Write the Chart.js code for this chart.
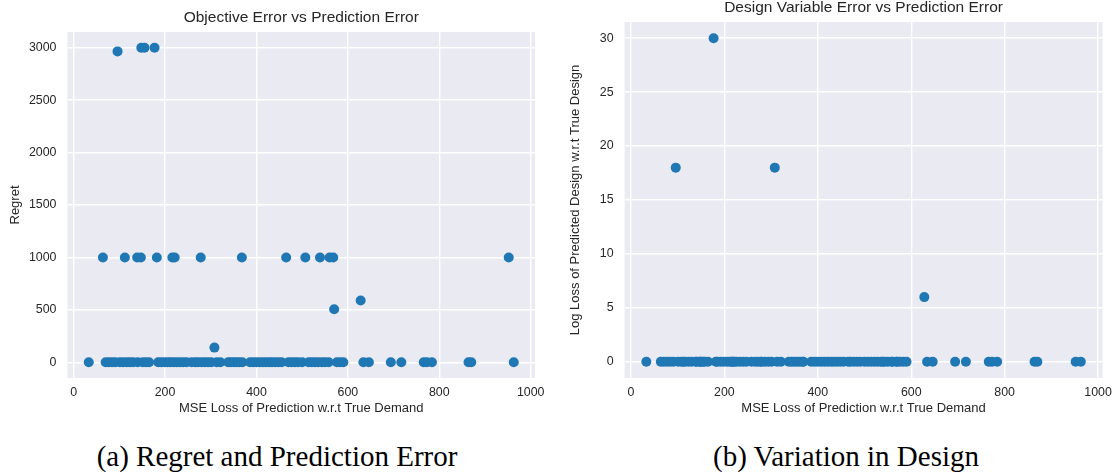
<!DOCTYPE html>
<html>
<head>
<meta charset="utf-8">
<script src="https://cdn.jsdelivr.net/npm/chart.js@4/dist/chart.umd.min.js"></script>
<style>
  body { margin: 0; background: #fff; width: 1119px; height: 474px; position: relative; overflow: hidden; }
  .box { position: absolute; top: 0; height: 430px; }
  .cap { position: absolute; top: 440px; width: 560px; text-align: center;
         font-family: "Liberation Serif", "DejaVu Serif", serif; font-size: 29px; color: #000; }
</style>
</head>
<body>
<div class="box" style="left:0;width:560px"><canvas id="regretChart"></canvas></div>
<div class="box" style="left:560px;width:559px"><canvas id="designChart"></canvas></div>
<div class="cap" style="left:0;width:554px">(a) Regret and Prediction Error</div>
<div class="cap" style="left:566px;width:560px">(b) Variation in Design</div>
<script>
// one entry per sample: MSE loss, regret, log loss of design
const mseLoss = [33, 64, 70, 77, 84, 91, 96, 101, 108, 112, 116, 123, 130, 139, 140, 147, 148, 151, 155, 158,
  165, 177, 182, 185, 192, 199, 206, 212, 216, 219, 221, 226, 233, 240, 247, 258, 266, 272, 278, 280,
  287, 294, 301, 308, 313, 321, 338, 344, 350, 356, 362, 368, 369, 386, 393, 400, 407, 414, 421, 428,
  434, 441, 448, 455, 465, 470, 477, 484, 491, 500, 507, 514, 521, 528, 535, 539, 543, 550, 558, 560,
  568, 570, 576, 583, 590, 628, 634, 646, 694, 717, 766, 773, 784, 864, 870, 952, 963];
const regret = [0, 1000, 0, 0, 0, 0, 2965, 0, 0, 1000, 0, 0, 0, 1000, 0, 1000, 3000, 0, 3000, 0,
  0, 3000, 1000, 0, 0, 0, 0, 0, 1000, 0, 1000, 0, 0, 0, 0, 0, 0, 0, 1000, 0,
  0, 0, 0, 140, 0, 0, 0, 0, 0, 0, 0, 1000, 0, 0, 0, 0, 0, 0, 0, 0,
  0, 0, 0, 0, 1000, 0, 0, 0, 0, 0, 1000, 0, 0, 0, 0, 1000, 0, 0, 0, 1000,
  1000, 505, 0, 0, 0, 590, 0, 0, 0, 0, 0, 0, 0, 0, 0, 1000, 0];
const designLoss = [0, 0, 0, 0, 0, 0, 18, 0, 0, 0, 0, 0, 0, 0, 0, 0, 0, 0, 0, 0,
  0, 30, 0, 0, 0, 0, 0, 0, 0, 0, 0, 0, 0, 0, 0, 0, 0, 0, 0, 0,
  0, 0, 0, 18, 0, 0, 0, 0, 0, 0, 0, 0, 0, 0, 0, 0, 0, 0, 0, 0,
  0, 0, 0, 0, 0, 0, 0, 0, 0, 0, 0, 0, 0, 0, 0, 0, 0, 0, 0, 0,
  0, 0, 0, 0, 0, 6, 0, 0, 0, 0, 0, 0, 0, 0, 0, 0, 0];

const xTicks = [0, 200, 400, 600, 800, 1000];
const regretTicks = [0, 500, 1000, 1500, 2000, 2500, 3000];
const designTicks = [0, 5, 10, 15, 20, 25, 30];

const FONT = '"Liberation Sans", Arial, sans-serif';
const TEXT = '#262626';

const panelBg = {
  id: 'panelBg',
  beforeDraw(chart) {
    const a = chart.chartArea, ctx = chart.ctx;
    ctx.save();
    ctx.fillStyle = '#eaeaf2';
    ctx.fillRect(a.left, a.top, a.right - a.left, a.bottom - a.top);
    ctx.restore();
  }
};

const plotTitle = {
  id: 'plotTitle',
  afterDraw(chart, args, opts) {
    const a = chart.chartArea, ctx = chart.ctx;
    ctx.save();
    ctx.font = '15.5px ' + FONT;
    ctx.fillStyle = TEXT;
    ctx.textAlign = 'center';
    ctx.textBaseline = 'middle';
    ctx.fillText(opts.text, (a.left + a.right) / 2, opts.y);
    ctx.restore();
  }
};

function makeChart(id, ys, yTicks, yMin, yMax, yTitle, title, titleY, pad, yWidth) {
  const axis = (ticks) => ({
    type: 'linear',
    afterBuildTicks: s => { s.ticks = ticks.map(v => ({ value: v })); },
    grid: { color: '#ffffff', lineWidth: 1.4, drawTicks: false },
    border: { display: false },
    ticks: { color: TEXT, font: { family: FONT, size: 12.4 }, callback: v => String(v) }
  });
  const x = axis(xTicks);
  x.min = -13.5; x.max = 1009.5;
  x.ticks.padding = 7;
  x.afterFit = s => { s.height = 52; };
  x.title = { display: true, text: 'MSE Loss of Prediction w.r.t True Demand', color: TEXT,
    font: { family: FONT, size: 13 }, padding: { top: 0, bottom: 14 } };
  const y = axis(yTicks);
  y.min = yMin; y.max = yMax;
  y.ticks.padding = 11;
  y.afterFit = s => { s.width = yWidth; };
  y.title = { display: true, text: yTitle, color: TEXT,
    font: { family: FONT, size: 13 }, padding: { top: 8, bottom: 0 } };

  return new Chart(document.getElementById(id).getContext('2d'), {
    type: 'scatter',
    data: {
      datasets: [{
        data: mseLoss.map((v, i) => ({ x: v, y: ys[i] })),
        backgroundColor: '#1f77b4',
        borderWidth: 0,
        pointRadius: 5,
        pointHoverRadius: 5
      }]
    },
    options: {
      responsive: true,
      maintainAspectRatio: false,
      animation: false,
      layout: { padding: pad },
      plugins: {
        legend: { display: false },
        tooltip: { enabled: false },
        plotTitle: { text: title, y: titleY }
      },
      scales: { x: x, y: y }
    },
    plugins: [panelBg, plotTitle]
  });
}

makeChart('regretChart', regret, regretTicks, -150, 3150, 'Regret',
  'Objective Error vs Prediction Error', 18, { top: 32, right: 25, bottom: 0, left: 0 }, 67.5);
makeChart('designChart', designLoss, designTicks, -1.5, 31.5, 'Log Loss of Predicted Design w.r.t True Design',
  'Design Variable Error vs Prediction Error', 8, { top: 22, right: 14.5, bottom: 0, left: 0 }, 64.6);
</script>
</body>
</html>
